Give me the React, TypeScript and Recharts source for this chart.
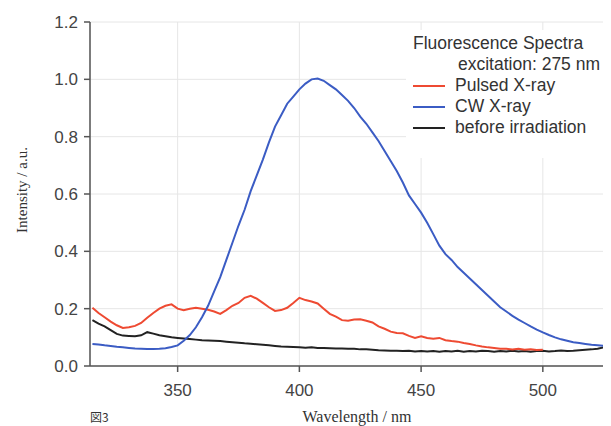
import React from 'react';
import { LineChart, Line, XAxis, YAxis, CartesianGrid } from 'recharts';

// wavelength grid (nm), every 2.5 nm
const wavelengths: number[] = [
  315, 317.5, 320, 322.5, 325, 327.5, 330, 332.5, 335, 337.5,
  340, 342.5, 345, 347.5, 350, 352.5, 355, 357.5, 360, 362.5,
  365, 367.5, 370, 372.5, 375, 377.5, 380, 382.5, 385, 387.5,
  390, 392.5, 395, 397.5, 400, 402.5, 405, 407.5, 410, 412.5,
  415, 417.5, 420, 422.5, 425, 427.5, 430, 432.5, 435, 437.5,
  440, 442.5, 445, 447.5, 450, 452.5, 455, 457.5, 460, 462.5,
  465, 467.5, 470, 472.5, 475, 477.5, 480, 482.5, 485, 487.5,
  490, 492.5, 495, 497.5, 500, 502.5, 505, 507.5, 510, 512.5,
  515, 517.5, 520, 522.5, 525, 527.5,
];

const pulsed: (number | null)[] = [
  0.203, 0.185, 0.17, 0.155, 0.142, 0.133, 0.135, 0.14, 0.15, 0.168,
  0.185, 0.2, 0.21, 0.215, 0.2, 0.195, 0.2, 0.203, 0.2, 0.196,
  0.19, 0.182, 0.195, 0.21, 0.22, 0.238, 0.245, 0.235, 0.22, 0.205,
  0.192, 0.195, 0.203, 0.22, 0.238, 0.23, 0.225, 0.218, 0.2, 0.182,
  0.172, 0.16, 0.158, 0.162, 0.163, 0.158, 0.152, 0.138, 0.13, 0.12,
  0.115, 0.114, 0.105, 0.098, 0.104, 0.098, 0.095, 0.098, 0.09, 0.087,
  0.085, 0.08, 0.077, 0.072, 0.068, 0.065, 0.063, 0.06, 0.06, 0.058,
  0.06, 0.057, 0.058, 0.056, 0.057, null, null, null, null, null,
  null, null, null, null, null, null,
];

const cw: number[] = [
  0.077, 0.075, 0.072, 0.07, 0.067, 0.065, 0.063, 0.061, 0.06, 0.059,
  0.059, 0.06, 0.062, 0.066, 0.072, 0.088, 0.108, 0.135, 0.17, 0.21,
  0.26, 0.31, 0.37, 0.43, 0.49, 0.545, 0.61, 0.665, 0.72, 0.78,
  0.835, 0.875, 0.915, 0.94, 0.965, 0.985, 1.0, 1.003, 0.995, 0.98,
  0.965, 0.945, 0.925, 0.9, 0.87, 0.845, 0.815, 0.785, 0.75, 0.715,
  0.68, 0.64, 0.595, 0.565, 0.535, 0.5, 0.46, 0.42, 0.39, 0.37,
  0.345, 0.325, 0.305, 0.285, 0.265, 0.245, 0.225, 0.205, 0.19, 0.175,
  0.162, 0.15, 0.138, 0.127, 0.117, 0.108, 0.1, 0.093, 0.088, 0.083,
  0.08, 0.077, 0.074, 0.072, 0.07, 0.07,
];

const before: number[] = [
  0.16, 0.148, 0.138, 0.125, 0.112, 0.106, 0.105, 0.104, 0.107, 0.118,
  0.113, 0.107, 0.104, 0.1, 0.098, 0.096, 0.094, 0.092, 0.09, 0.089,
  0.088, 0.087, 0.085, 0.083, 0.081, 0.079, 0.078, 0.076, 0.074, 0.072,
  0.07, 0.068, 0.067, 0.066, 0.065, 0.064, 0.065, 0.063, 0.063, 0.062,
  0.061, 0.061, 0.06, 0.06, 0.058, 0.058, 0.057, 0.055, 0.054, 0.053,
  0.053, 0.052, 0.053, 0.051, 0.052, 0.051, 0.052, 0.05, 0.052, 0.051,
  0.053, 0.05, 0.052, 0.051, 0.053, 0.052, 0.05, 0.052, 0.051, 0.053,
  0.051, 0.052, 0.05, 0.052, 0.053, 0.051, 0.052, 0.054, 0.052, 0.053,
  0.055, 0.057, 0.058, 0.06, 0.065, 0.072,
];

const xTicks = [350, 400, 450, 500];
const yTicks = [0, 0.2, 0.4, 0.6, 0.8, 1.0, 1.2];

const RED = '#ee4a32';
const BLUE = '#3b5cc4';
const BLACK = '#222222';

const data = wavelengths.map((w, i) => ({
  w,
  pulsed: pulsed[i],
  cw: cw[i],
  before: before[i],
}));

const tickStyle = { fill: '#444', fontSize: 17, fontFamily: 'Liberation Sans, Arial, sans-serif' };

const legendRows = [
  { label: 'Pulsed X-ray', color: RED },
  { label: 'CW X-ray', color: BLUE },
  { label: 'before irradiation', color: BLACK },
];

const App: React.FC = () => {
  return (
    <div style={{ position: 'relative', width: 603, height: 418, overflow: 'hidden' }}>
      <LineChart
        width={603}
        height={418}
        data={data}
        margin={{ top: 14, right: 0, left: 0, bottom: 0 }}
      >
        <CartesianGrid stroke="#e6e6e6" strokeWidth={1} />
        <XAxis
          dataKey="w"
          type="number"
          domain={[314, 528]}
          ticks={xTicks}
          allowDataOverflow
          height={60}
          tick={tickStyle}
          tickSize={6}
          tickMargin={12}
          axisLine={{ stroke: '#555', strokeWidth: 1.5 }}
          tickLine={{ stroke: '#555', strokeWidth: 1.5 }}
        />
        <YAxis
          type="number"
          domain={[0, 1.2]}
          ticks={yTicks}
          width={82}
          tick={tickStyle}
          tickFormatter={(v: number) => v.toFixed(1)}
          tickSize={6}
          tickMargin={6}
          axisLine={{ stroke: '#555', strokeWidth: 1.5 }}
          tickLine={{ stroke: '#555', strokeWidth: 1.5 }}
        />
        <Line dataKey="before" stroke={BLACK} strokeWidth={2} dot={false} isAnimationActive={false} />
        <Line dataKey="pulsed" stroke={RED} strokeWidth={2} dot={false} isAnimationActive={false} />
        <Line dataKey="cw" stroke={BLUE} strokeWidth={2} dot={false} isAnimationActive={false} />
      </LineChart>

      {/* legend box, covers the grid */}
      <div
        style={{
          position: 'absolute',
          left: 398,
          top: 22,
          width: 205,
          height: 128,
          background: '#fff',
          fontFamily: 'Liberation Sans, Arial, sans-serif',
          fontSize: 17.5,
          color: '#333',
          lineHeight: '21px',
        }}
      >
        <div style={{ position: 'absolute', left: 7, top: 3, whiteSpace: 'nowrap' }}>Fluorescence Spectra</div>
        <div style={{ position: 'absolute', left: 52, top: 24, whiteSpace: 'nowrap' }}>excitation: 275 nm</div>
        {legendRows.map((r, i) => (
          <div key={r.label} style={{ position: 'absolute', left: 7, top: 45 + i * 21, whiteSpace: 'nowrap' }}>
            <span
              style={{
                display: 'inline-block',
                width: 32,
                height: 2,
                background: r.color,
                verticalAlign: 'middle',
                marginRight: 10,
              }}
            />
            {r.label}
          </div>
        ))}
      </div>

      <div
        style={{
          position: 'absolute',
          left: 14,
          top: 182,
          transform: 'translate(-50%, -50%) rotate(-90deg)',
          fontFamily: 'Liberation Serif, Times New Roman, serif',
          fontSize: 15,
          color: '#333',
          whiteSpace: 'nowrap',
        }}
      >
        Intensity / a.u.
      </div>
      <div
        style={{
          position: 'absolute',
          left: 349,
          top: 409,
          transform: 'translate(-50%, -50%)',
          fontFamily: 'Liberation Serif, Times New Roman, serif',
          fontSize: 16,
          color: '#333',
          whiteSpace: 'nowrap',
        }}
      >
        Wavelength / nm
      </div>
      <div
        style={{
          position: 'absolute',
          left: 82,
          top: 401,
          fontFamily: 'Noto Sans CJK JP, sans-serif',
          fontSize: 12,
          lineHeight: '16px',
          color: '#333',
          whiteSpace: 'nowrap',
        }}
      >
        図3
      </div>
    </div>
  );
};

export default App;
